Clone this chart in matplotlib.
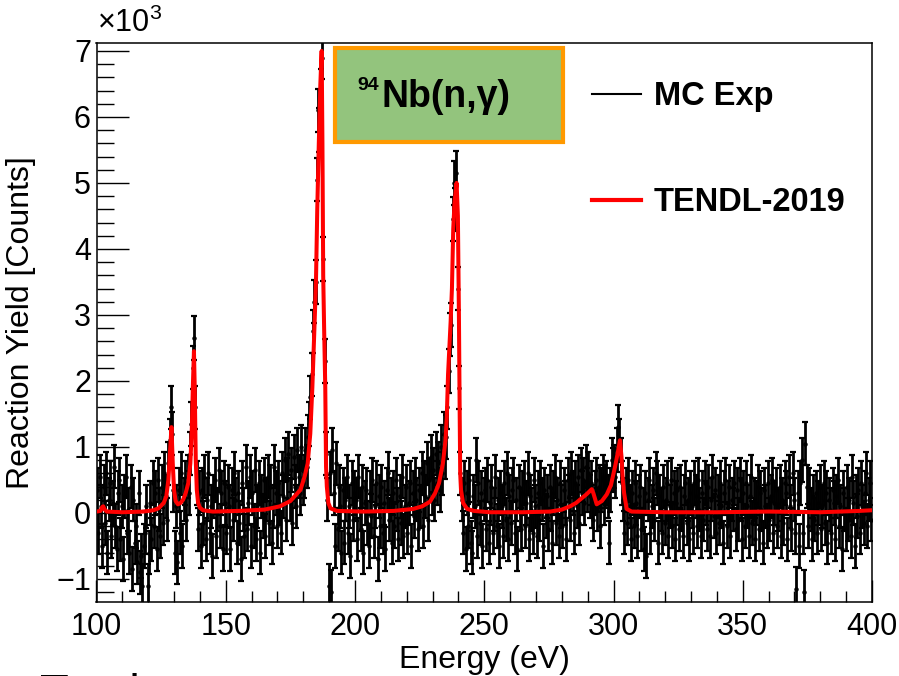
import numpy as np
import matplotlib.pyplot as plt
from matplotlib.lines import Line2D
from matplotlib.patches import Rectangle
from matplotlib.ticker import MultipleLocator

plt.rcParams["font.family"] = ["Liberation Sans", "DejaVu Sans"]
plt.rcParams["mathtext.fontset"] = "custom"
plt.rcParams["mathtext.rm"] = "Liberation Sans"

# MC Exp, 0.5 eV bins starting at 100 eV, values in units of 10^3 counts
bin_width = 0.5
yield_100_150 = [
    0.35, -0.3, 0.55, 0.1, -0.5, 0.4, -0.15, 0.6, -0.6, 0.2,
    0.45, -0.35, 0.15, 0.7, -0.2, -0.55, 0.3, 0.5, -0.4, 0.1,
    -0.7, 0.25, 0.55, -0.3, 0.05, -0.6, 0.4, -0.85, 0.2, -0.45,
    -0.2, -0.75, 0.3, -0.9, -0.65, -1.1, -0.5, -0.3, 0.1, -1.1,
    -0.6, 0.15, -0.4, 0.45, -0.2, 0.3, -0.55, 0.5, 0.05, -0.35,
    0.4, -0.15, 0.6, 0.25, -0.1, 0.75, 1.1, 1.6, 1.2, 0.35,
    -0.6, 0.1, -0.75, 0.35, -0.3, 0.6, -0.5, 0.2, 0.45, -0.1,
    0.55, 0.3, 0.9, 1.35, 2.2, 2.65, 1.6, 0.45, -0.25, 0.3,
    -0.5, 0.35, -0.15, 0.55, -0.4, 0.2, 0.6, -0.3, 0.1, -0.65,
    0.25, 0.5, -0.35, 0.05, 0.65, -0.2, 0.3, -0.55, 0.45, 0.15,
]
yield_150_200 = [
    -0.3, 0.4, 0.1, -0.55, 0.35, -0.1, 0.6, 0.2, -0.45, 0.3,
    -0.15, -0.7, 0.45, 0.05, -0.35, 0.7, -0.25, 0.15, 0.55, -0.5,
    0.3, -0.2, 0.65, -0.4, 0.1, 0.45, -0.6, 0.25, -0.05, 0.5,
    -0.35, 0.2, 0.55, -0.15, 0.4, -0.45, 0.1, 0.7, 0.3, -0.2,
    0.45, 0.15, -0.3, 0.6, 0.25, 0.8, -0.1, 0.5, 0.9, 0.2,
    0.65, -0.15, 0.85, 0.4, 0.1, 0.95, 0.55, 0.3, 1.0, 0.45,
    0.55, 0.95, 0.7, 1.15, 1.35, 1.75, 2.1, 2.75, 3.2, 3.5,
    5.05, 6.1, 5.8, 6.4, 6.9, 3.85, 2.3, 0.9, 0.2, -1.1,
    0.6, -1.2, 0.95, 0.3, -0.5, 0.75, -0.25, 0.4, 0.1, -0.6,
    0.35, -0.45, 0.2, 0.55, -0.3, 0.1, -0.65, 0.45, -0.1, 0.3,
]
yield_200_250 = [
    0.2, -0.4, 0.55, 0.05, -0.25, 0.4, -0.6, 0.15, 0.35, -0.15,
    -0.5, 0.3, -0.05, 0.5, -0.35, 0.1, 0.45, -0.7, 0.25, -0.2,
    0.4, -0.3, 0.15, -0.55, 0.35, 0.6, -0.1, 0.2, -0.45, 0.3,
    -0.2, 0.5, 0.05, -0.4, 0.25, -0.15, 0.55, -0.35, 0.1, 0.4,
    -0.3, 0.15, 0.45, -0.5, 0.3, -0.05, 0.5, 0.2, -0.25, 0.35,
    0.1, 0.6, -0.2, 0.45, 0.25, 0.75, -0.1, 0.5, 0.85, 0.3,
    0.65, 0.2, 0.9, 0.45, 0.75, 0.35, 1.0, 0.6, 1.2, 0.85,
    1.15, 1.6, 2.15, 2.7, 2.85, 4.45, 5.0, 4.6, 5.15, 3.4,
    1.9, 0.6, 0.2, -0.3, 0.45, -0.55, 0.3, -0.2, 0.5, -0.45,
    -0.6, 0.25, 0.1, 0.8, -0.35, 0.45, -0.15, 0.3, -0.5, 0.2,
]
yield_250_300 = [
    0.35, -0.25, 0.5, -0.45, 0.15, 0.4, -0.3, 0.05, 0.55, -0.2,
    0.2, -0.5, 0.3, 0.1, -0.35, 0.45, -0.1, 0.6, -0.4, 0.25,
    -0.15, 0.35, 0.5, -0.3, 0.2, -0.55, 0.4, 0.05, -0.25, 0.3,
    0.45, -0.2, 0.15, 0.6, -0.4, 0.25, 0.05, -0.3, 0.5, 0.1,
    -0.35, 0.3, -0.1, 0.45, 0.2, -0.5, 0.35, -0.05, 0.25, -0.25,
    0.4, 0.05, -0.45, 0.3, 0.55, -0.15, 0.2, -0.35, 0.45, 0.1,
    -0.2, 0.35, 0.15, -0.4, 0.5, 0.25, -0.1, 0.6, 0.3, -0.3,
    0.45, 0.1, 0.55, -0.15, 0.65, 0.3, 0.5, 0.15, 0.7, 0.35,
    0.6, 0.25, 0.45, 0.1, -0.1, 0.3, 0.5, 0.05, 0.4, -0.2,
    0.35, 0.55, 0.15, 0.4, 0.45, 0.25, -0.45, 0.35, 0.8, 0.65,
]
yield_300_350 = [
    0.7, 0.55, 0.95, 1.3, 1.1, 0.8, 0.45, 0.2, -0.3, 0.35,
    -0.15, 0.5, 0.1, -0.4, 0.3, -0.2, 0.45, 0.15, -0.35, 0.25,
    0.4, -0.25, 0.05, -0.55, 0.3, -0.65, 0.2, 0.5, -0.3, 0.1,
    0.35, -0.1, 0.6, 0.45, -0.45, 0.25, 0.05, -0.3, 0.4, -0.15,
    0.2, 0.45, -0.35, 0.1, 0.5, -0.2, 0.3, -0.4, 0.15, 0.35,
    -0.25, 0.4, 0.05, -0.35, 0.25, 0.45, -0.15, 0.2, -0.4, 0.3,
    0.1, -0.3, 0.45, 0.25, -0.2, 0.5, 0.05, -0.35, 0.3, -0.1,
    0.45, 0.15, -0.25, 0.4, -0.35, 0.2, 0.55, -0.05, 0.35, -0.3,
    0.25, -0.15, 0.45, 0.1, -0.45, 0.3, 0.5, -0.2, 0.15, 0.4,
    -0.35, 0.2, 0.05, 0.45, -0.25, 0.35, -0.1, 0.5, 0.2, -0.4,
]
yield_350_400 = [
    0.3, -0.2, 0.45, 0.1, -0.35, 0.25, 0.55, -0.15, 0.2, -0.4,
    0.15, 0.4, -0.25, 0.3, 0.05, -0.45, 0.35, 0.1, -0.2, 0.45,
    -0.1, 0.25, 0.5, -0.3, 0.15, 0.35, -0.2, 0.05, 0.4, -0.35,
    0.2, -0.15, 0.45, 0.3, -0.4, 0.55, 0.1, -0.25, 0.6, 0.2,
    -0.3, -1.15, 0.3, -0.5, 0.45, 0.8, -0.3, -1.2, 1.05, 0.4,
    -0.2, 0.35, 0.05, -0.4, 0.25, -0.1, 0.3, -0.3, 0.15, 0.4,
    -0.25, 0.1, 0.45, -0.15, 0.3, -0.45, 0.2, 0.05, -0.3, 0.35,
    0.15, -0.4, 0.25, 0.5, -0.2, 0.1, -0.55, 0.3, 0.05, -0.25,
    0.4, -0.1, 0.2, -0.35, 0.55, 0.15, -0.5, 0.25, -0.05, 0.35,
    -0.3, 0.45, 0.1, -0.15, 0.3, 0.6, -0.2, 0.2, 0.45, -0.1,
]
yield_err = 0.33

# TENDL-2019 evaluation, energy (eV) and yield (10^3 counts)
tendl_energy = [
    100, 101.5, 102.2, 102.6, 103.2, 104, 110, 118, 122, 124, 126, 127, 127.8,
    128.4, 129.0, 129.5, 130.0, 130.6, 131.5, 132.5, 133.5, 134.5, 135.5,
    136.3, 136.9, 137.3, 137.7, 138.0, 138.4, 138.8, 139.3, 140, 141.2, 145,
    155, 165, 171, 175, 178.9, 180.5, 181.7, 182.7, 183.5, 184.3, 184.9, 185.4,
    186.0, 186.6, 187.1, 187.4, 187.7, 188.1, 188.5, 188.8, 189.1, 189.7,
    190.5, 193, 203, 215, 222.5, 226, 229, 231, 232.5, 234, 235, 235.5, 236,
    236.5, 237, 237.5, 238, 238.5, 239.3, 239.8, 240.2, 240.5, 240.7, 241,
    241.8, 243.4, 246, 252, 265, 275.5, 280, 283.2, 285.5, 287, 289.5, 291.6,
    292.2, 293.5, 295.5, 297.4, 299, 300.6, 301.6, 302.5, 303.1, 303.6, 304.1,
    305.1, 307, 320, 340, 360, 380, 395, 400,
]
tendl_yield = [
    0.02, 0.03, 0.09, 0.1, 0.05, 0.02, 0.01, 0.02, 0.04, 0.07, 0.15, 0.25, 0.5,
    0.9, 1.3, 0.75, 0.35, 0.18, 0.13, 0.15, 0.2, 0.3, 0.45,
    0.75, 1.3, 1.95, 2.45, 1.9, 0.8, 0.35, 0.15, 0.08, 0.04, 0.02,
    0.03, 0.05, 0.1, 0.18, 0.35, 0.55, 0.75, 1.2, 1.9, 2.8, 3.5, 4.6,
    5.6, 6.5, 7.0, 5.6, 3.6, 2.7, 1.9, 0.7, 0.4, 0.15,
    0.07, 0.03, 0.02, 0.03, 0.06, 0.1, 0.17, 0.3, 0.45, 0.75, 1.1, 1.45, 2.1,
    2.5, 2.9, 3.4, 4.3, 4.7, 5.0, 4.5, 3.0, 1.5, 0.6, 0.35,
    0.15, 0.06, 0.03, 0.01, 0.01, 0.02, 0.05, 0.1, 0.15, 0.2, 0.28, 0.36,
    0.3, 0.13, 0.18, 0.28, 0.42, 0.7, 0.9, 1.1, 0.85, 0.5, 0.3,
    0.06, 0.02, 0.01, 0.01, 0.02, 0.01, 0.03, 0.04,
]

exp_yield = np.array(yield_100_150 + yield_150_200 + yield_200_250
                     + yield_250_300 + yield_300_350 + yield_350_400)
exp_energy = 100 + bin_width / 2 + bin_width * np.arange(len(exp_yield))

W, H = 899, 676
fig = plt.figure(figsize=(W / 100, H / 100), dpi=100)
ax = fig.add_axes([96.5 / W, 1 - 602 / H, 775.5 / W, 559 / H])

ax.errorbar(exp_energy, exp_yield, yerr=yield_err, fmt="o", ms=2.2,
            color="black", ecolor="black", elinewidth=2.0, capsize=2.2,
            capthick=1.6, zorder=2)
ax.plot(tendl_energy, tendl_yield, color="red", lw=2.9, zorder=3)

ax.set_xlim(100, 400)
ax.set_ylim(-1.35, 7.12)
ax.xaxis.set_major_locator(MultipleLocator(50))
ax.xaxis.set_minor_locator(MultipleLocator(10))
ax.yaxis.set_major_locator(MultipleLocator(1))
ax.yaxis.set_minor_locator(MultipleLocator(0.2))
ax.tick_params(which="both", direction="in", top=False, right=False,
               labelsize=22, width=1.0)
ax.tick_params(axis="y", which="major", length=23, pad=4)
ax.tick_params(axis="y", which="minor", length=12)
ax.tick_params(axis="x", which="major", length=16, pad=7)
ax.tick_params(axis="x", which="minor", length=8)
for spine in ax.spines.values():
    spine.set_linewidth(1.1)

ax.set_xlabel("Energy (eV)", fontsize=23)
ax.xaxis.set_label_coords(0.5, -0.077)
ax.set_ylabel("Reaction Yield [Counts]", fontsize=23)
ax.yaxis.set_label_coords(-0.078, 0.5)

fig.text(97 / W, 1 - 8 / H, "×10$^{3}$", ha="left", va="top", fontsize=22)

# title box
fig.add_artist(Rectangle((335 / W, 1 - 142 / H), 228 / W, 94 / H,
                         transform=fig.transFigure, facecolor="#93c47d",
                         edgecolor="#ff9900", linewidth=3))
fig.text(357 / W, 1 - 77 / H, "94", ha="left", va="top", fontsize=14,
         fontweight="bold")
fig.text(382 / W, 1 - 97 / H, "Nb(n,γ)", ha="left", va="center",
         fontsize=27, fontweight="bold")

handles = [Line2D([], [], color="black", lw=1.5),
           Line2D([], [], color="red", lw=3)]
ax.legend(handles, ["MC Exp", "TENDL-2019"], loc="upper left",
          bbox_to_anchor=(592 / W, 1 - 81 / H), bbox_transform=fig.transFigure,
          frameon=False, prop={"weight": "bold", "size": 23.5},
          handlelength=1.5, handletextpad=0.4, labelspacing=2.3,
          borderpad=0, borderaxespad=0)

fig.text(40 / W, 1 - 673 / H, "Total", ha="left", va="top", fontsize=34)

fig.savefig("out.png", dpi=100)
